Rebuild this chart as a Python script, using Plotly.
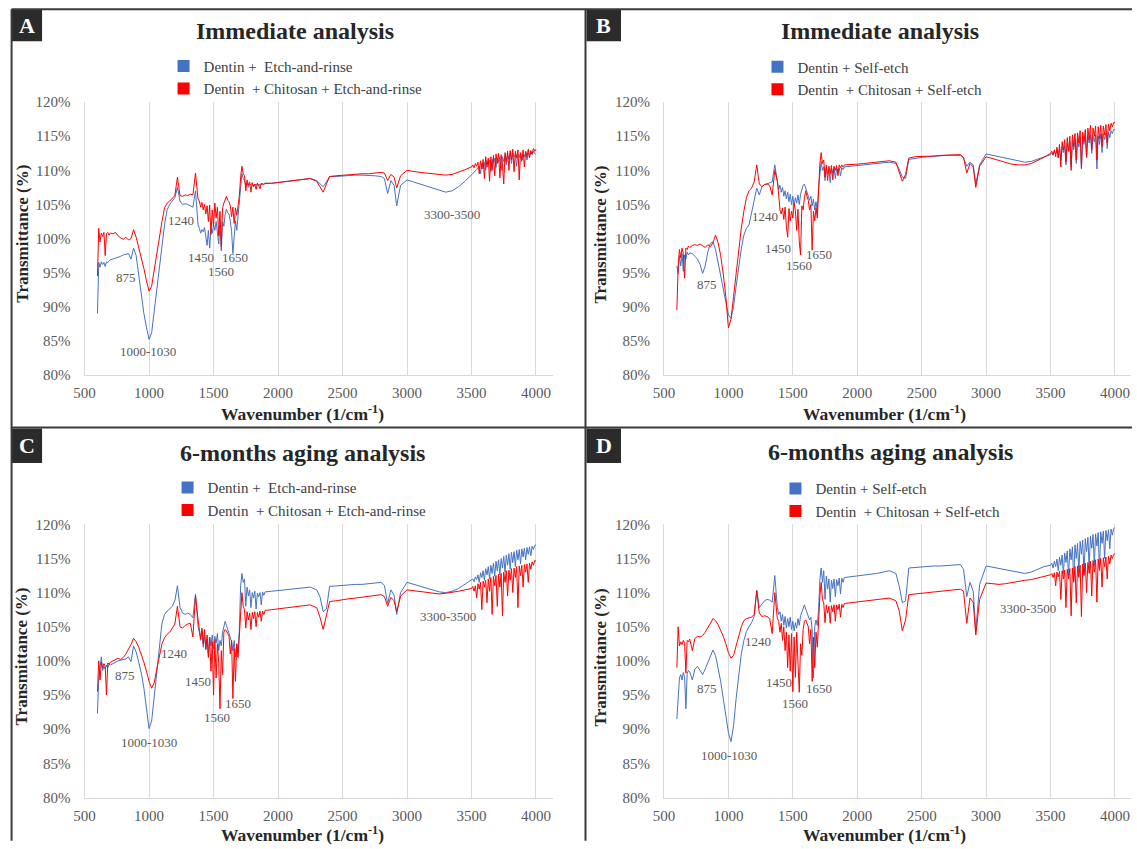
import plotly.graph_objects as go

# The page is captured at about 1148x865 (8px body margin round the figure)
# and then fitted into the 1137x849 picture; layout positions below are given
# in picture pixels and converted here.
BODY = 8
W, H = 1132, 849
X_STRETCH = 1148 / 1137
Y_STRETCH = 865 / 849
X_SHIFT = 3.5


def px(x):
    return ((x - X_SHIFT) * X_STRETCH - BODY) / W


def py(y):
    return 1 - (y * Y_STRETCH - BODY) / H


SERIF = "Liberation Serif"
BLUE = "#4472C4"
RED = "#FF0000"
TICK_GREY = "#595959"
GRID_GREY = "#D9D9D9"
DARK = "#262626"

# ---------------- data ----------------
WN_MID = [1950, 2000, 2050, 2100, 2150, 2200, 2250, 2300,
          2325, 2350, 2375,
          2400, 2450, 2500, 2550, 2600, 2650, 2700, 2750, 2800,
          2825, 2850, 2875, 2900, 2920, 2950,
          3000, 3050, 3100, 3150, 3200, 3250, 3300, 3350, 3400, 3450]

WAVENUMBER = (list(range(600, 701, 10)) + list(range(720, 1381, 20))
              + list(range(1390, 1701, 10)) + list(range(1710, 1901, 10))
              + WN_MID + list(range(3500, 4001, 10)))

X_TICKS = [500, 1000, 1500, 2000, 2500, 3000, 3500, 4000]
Y_TICKS = [80, 85, 90, 95, 100, 105, 110, 115, 120]
Y_TICK_TEXT = ["80%", "85%", "90%", "95%", "100%", "105%", "110%", "115%", "120%"]

NAME_ER = "Dentin +  Etch-and-rinse"
NAME_CH_ER = "Dentin  + Chitosan + Etch-and-rinse"
NAME_SE = "Dentin + Self-etch"
NAME_CH_SE = "Dentin  + Chitosan + Self-etch"

# Panel A - immediate, etch-and-rinse
A_BLUE = [
    89.0, 96.5, 95.8, 96.6, 96.2, 96.5, 95.9, 96.6, 96.5, 96.8, 96.9,
    97.0, 97.1, 97.3, 97.4, 97.6, 97.7, 97.8, 97.0, 98.6, 97.5,
    94.5, 91.5, 89.0, 87.0, 85.2, 86.2, 89.5, 93.0, 96.0, 99.0,
    102.0, 104.2, 105.0, 105.5, 106.0, 107.5, 105.5, 105.0, 105.1, 105.0,
    104.8, 104.6, 107.0, 102.0,
    101.5, 100.8, 101.3, 101.0, 101.6, 100.5, 99.0, 101.2, 98.6, 101.5,
    100.8, 102.0, 101.2, 102.5, 100.6, 99.2, 102.0, 98.2, 102.5, 101.8,
    103.5, 104.3, 103.8, 103.6, 102.5, 101.0, 97.8, 100.2, 102.6, 101.2,
    103.5, 105.5,
    107.5, 109.5, 108.8, 108.5, 107.8, 108.2, 107.5, 108.0, 107.9, 108.1,
    107.6, 108.0, 107.8, 108.1, 107.7, 108.0, 107.9, 108.1, 107.9, 108.1,
    108.1, 108.2, 108.3, 108.4, 108.5, 108.6, 108.8, 108.5,
    108.0, 107.6, 108.3,
    109.1, 109.1, 109.2, 109.2, 109.3, 109.3, 109.3, 109.2, 109.1,
    108.8, 106.6, 108.5, 107.8, 104.8, 107.8,
    108.6, 108.3, 108.0, 107.7, 107.3, 107.0, 106.8, 107.0, 107.6, 108.4,
    109.3, 109.5, 109.7, 109.9, 110.1, 110.4, 110.6, 109.5, 111.0, 110.2,
    111.2, 110.0, 111.4, 110.8, 111.5, 109.8, 111.6, 111.0, 111.8, 110.4,
    111.8, 111.2, 112.0, 110.0, 112.0, 111.3, 112.2, 110.8, 112.3, 111.6,
    112.6, 111.0, 112.5, 112.0, 112.3, 110.6, 112.4, 111.9, 112.5, 111.3,
    112.4, 112.0, 112.6, 111.5, 112.5, 112.2, 112.7, 112.3, 112.8, 112.5,
    112.3,
]
A_RED = [
    94.5, 101.5, 99.5, 100.8, 100.3, 100.9, 97.5, 100.7, 100.9, 100.5, 100.8,
    100.7, 100.9, 100.4, 100.1, 99.9, 100.2, 99.8, 100.0, 101.3, 100.2,
    98.8, 97.2, 95.6, 93.8, 92.3, 93.0, 95.5, 98.0, 100.3, 102.5,
    104.5, 105.2, 105.5, 105.9, 106.3, 109.0, 106.3, 106.2, 106.4, 106.3,
    106.5, 106.4, 109.6, 105.8,
    105.5, 104.6, 105.3, 104.2, 105.0, 103.6, 104.8, 102.5, 104.9, 100.6,
    104.2, 101.8, 105.2, 103.0, 104.6, 100.4, 104.0, 98.8, 104.5, 105.2,
    105.8, 106.2, 105.6, 105.4, 104.8, 103.2, 104.6, 102.2, 104.5, 103.4,
    104.8, 106.2,
    109.0, 110.6, 109.5, 109.2, 107.0, 108.6, 107.8, 108.3, 106.8, 108.2,
    107.6, 108.0, 107.2, 108.1, 107.8, 107.3, 108.1, 107.9, 108.0, 108.1,
    108.1, 108.2, 108.3, 108.4, 108.5, 108.6, 108.8, 108.4,
    107.6, 106.8, 108.0,
    109.1, 109.2, 109.3, 109.4, 109.4, 109.5, 109.5, 109.6, 109.7,
    109.6, 108.5, 109.4, 109.0, 107.4, 109.2,
    110.0, 109.8, 109.7, 109.6, 109.5, 109.4, 109.3, 109.4, 109.7, 110.1,
    110.5, 110.8, 110.4, 111.0, 110.6, 111.2, 109.5, 111.4, 110.2, 111.6,
    108.8, 112.0, 110.5, 111.8, 108.4, 112.0, 110.0, 112.2, 109.2, 112.4,
    111.0, 112.5, 108.9, 112.3, 110.8, 108.0, 112.6, 111.2, 112.8, 110.0,
    112.9, 111.5, 113.1, 109.8, 112.8, 111.8, 113.0, 108.6, 112.6, 111.5,
    113.0, 110.5, 112.8, 112.0, 113.1, 111.8, 112.9, 112.4, 113.2, 112.8,
    113.1,
]

# Panel B - immediate, self-etch
B_BLUE = [
    96.0, 94.8, 97.5, 96.0, 97.8, 95.2, 97.6, 97.0, 98.0, 97.6, 97.9,
    97.8, 97.4, 97.0, 96.2, 94.9, 96.0, 98.0, 99.3, 99.5, 98.4,
    96.5, 94.5, 92.5, 90.5, 88.8, 88.3, 90.0, 93.0, 96.0, 98.5,
    100.5, 101.5, 102.0, 103.8, 106.0, 107.4, 106.4, 107.6, 107.9, 108.0,
    108.1, 108.3, 110.8, 108.0,
    107.2, 107.8, 106.8, 107.5, 106.2, 107.0, 105.8, 106.8, 105.4, 106.5,
    105.0, 106.2, 104.8, 106.0, 105.2, 106.4, 105.0, 106.5, 107.2, 107.8,
    108.0, 107.4, 106.8, 106.5, 105.6, 106.2, 104.8, 105.8, 104.2, 105.4,
    104.0, 107.5,
    110.0, 111.3, 110.0, 110.5, 108.5, 110.3, 109.5, 110.2, 108.2, 110.3,
    109.6, 110.4, 108.8, 110.3, 109.8, 110.4, 109.2, 110.4, 110.1, 110.5,
    110.6, 110.7, 110.8, 110.9, 111.0, 111.1, 111.2, 111.0,
    110.2, 109.0, 108.8,
    111.6, 111.8, 111.9, 112.0, 112.1, 112.1, 112.2, 112.2, 112.2,
    111.8, 110.6, 111.2, 110.8, 108.0, 110.8,
    112.4, 112.2, 112.0, 111.8, 111.6, 111.4, 111.2, 111.3, 111.6, 112.0,
    112.3, 112.5, 112.2, 112.8, 112.4, 113.0, 112.0, 113.2, 111.5, 113.5,
    112.6, 113.6, 110.8, 114.0, 112.8, 114.2, 110.5, 114.4, 113.0, 114.5,
    111.0, 114.6, 113.4, 114.8, 110.2, 114.6, 113.8, 115.0, 111.8, 115.0,
    114.0, 115.2, 112.5, 115.0, 114.2, 115.2, 110.2, 115.0, 113.8, 115.3,
    112.6, 115.4, 114.5, 115.5, 113.2, 115.6, 114.8, 115.8, 115.4, 116.0,
    116.0,
]
B_RED = [
    89.5, 96.0, 98.4, 97.2, 98.6, 97.8, 94.2, 98.6, 98.4, 98.9, 98.7,
    99.0, 99.1, 99.0, 99.2, 98.9, 98.7, 99.1, 98.8, 99.4, 100.5,
    99.4, 97.5, 94.8, 91.5, 86.9, 88.2, 91.5, 95.0, 98.5, 101.5,
    104.0, 106.0, 107.0, 107.4, 108.3, 110.8, 108.0, 107.6, 107.9, 108.0,
    107.8, 106.4, 110.0, 108.4,
    106.5, 104.2, 103.6, 104.5, 102.8, 104.6, 101.8, 100.2, 104.4, 102.6,
    104.0, 103.0, 105.2, 104.0, 101.2, 104.3, 99.5, 97.6, 104.8, 104.2,
    106.0, 107.0, 106.2, 105.6, 104.2, 105.0, 98.3, 104.0, 102.6, 104.5,
    103.0, 107.5,
    111.0, 112.6, 111.0, 111.5, 109.0, 110.8, 108.5, 110.6, 109.5, 110.7,
    108.6, 110.6, 110.0, 110.7, 109.2, 110.8, 110.4, 110.8, 110.5, 110.8,
    110.8, 110.9, 111.0, 111.1, 111.2, 111.3, 111.4, 111.2,
    109.8, 108.4, 109.4,
    111.8, 112.0, 112.0, 112.1, 112.1, 112.2, 112.2, 112.3, 112.3,
    111.9, 109.6, 111.0, 110.5, 107.5, 110.6,
    112.0, 111.7, 111.4, 111.2, 110.9, 110.8, 110.8, 111.0, 111.4, 111.9,
    112.5, 112.8, 112.3, 113.0, 112.0, 113.4, 111.8, 113.8, 110.5, 114.2,
    113.0, 114.5, 111.2, 114.8, 112.8, 115.0, 110.0, 115.2, 113.5, 115.4,
    111.5, 115.5, 114.0, 115.8, 110.4, 115.6, 114.2, 116.0, 112.0, 116.2,
    114.5, 116.6, 113.0, 116.2, 115.0, 116.5, 111.5, 116.4, 114.6, 116.6,
    113.5, 116.5, 115.2, 116.7, 114.0, 116.8, 115.8, 116.9, 116.4, 117.0,
    117.0,
]

# Panel C - 6-months aging, etch-and-rinse
C_BLUE = [
    92.3, 97.5, 99.0, 100.6, 98.6, 99.2, 98.8, 99.4, 99.0, 99.5, 99.4,
    99.6, 99.9, 100.0, 100.1, 100.2, 100.3, 100.6, 99.9, 102.2, 101.3,
    99.8, 98.2, 96.0, 93.0, 90.1, 91.2, 95.0, 99.0, 102.5, 105.5,
    106.8, 107.3, 107.6, 108.0, 108.8, 111.0, 107.8, 107.0, 106.8, 107.0,
    106.8, 106.3, 109.8, 105.0,
    104.2, 103.0, 104.5, 102.0, 103.8, 101.6, 103.2, 100.8, 103.5, 102.2,
    103.8, 101.8, 103.6, 102.6, 104.0, 101.5, 103.0, 102.2, 104.2, 105.2,
    105.8, 105.2, 104.6, 104.3, 103.5, 102.8, 101.5, 103.0, 100.6, 102.5,
    101.2, 104.5,
    111.0, 112.8, 111.5, 112.0, 108.0, 110.8, 109.5, 110.4, 107.8, 110.0,
    109.2, 110.2, 107.6, 109.9, 109.4, 110.0, 108.2, 110.1, 109.6, 110.1,
    110.2, 110.3, 110.4, 110.5, 110.6, 110.7, 110.8, 110.4,
    109.4, 107.2, 107.6,
    110.9, 111.0, 111.1, 111.1, 111.2, 111.2, 111.3, 111.4, 111.5,
    111.0, 108.4, 110.4, 109.6, 106.8, 110.0,
    111.5, 111.2, 110.9, 110.6, 110.3, 110.1, 110.0, 110.2, 110.6, 111.2,
    111.8, 112.0, 111.6, 112.3, 111.9, 112.6, 111.5, 112.9, 112.2, 113.2,
    111.8, 113.5, 112.6, 113.8, 112.0, 114.0, 112.8, 114.3, 112.4, 114.6,
    113.2, 114.8, 112.6, 115.0, 113.6, 115.3, 113.0, 115.5, 114.0, 115.7,
    113.4, 115.9, 114.4, 116.0, 113.8, 116.2, 114.8, 116.3, 114.2, 116.4,
    115.2, 116.5, 114.8, 116.6, 115.6, 116.7, 115.4, 116.8, 116.3, 116.9,
    117.0,
]
C_RED = [
    95.5, 100.0, 97.2, 99.8, 99.0, 99.6, 99.2, 95.0, 99.7, 99.5, 99.8,
    100.0, 100.3, 100.4, 100.2, 100.5, 101.0, 101.6, 102.4, 103.3, 102.8,
    102.0, 101.0, 99.8, 98.5, 97.0, 96.0, 96.8, 98.8, 100.8, 102.5,
    103.4, 103.9, 104.2, 104.8, 105.4, 108.0, 105.0, 104.8, 105.2, 105.4,
    105.5, 103.5, 109.5, 106.0,
    104.5, 103.2, 104.8, 102.5, 104.6, 101.8, 103.8, 100.5, 103.5, 98.5,
    102.8, 95.0, 103.0, 97.5, 102.5, 99.8, 93.0, 101.5, 98.0, 104.2,
    104.6, 104.4, 104.0, 103.6, 101.0, 103.0, 94.5, 101.8, 97.0, 102.5,
    100.5, 104.0,
    108.5, 110.0, 108.0, 107.5, 104.8, 107.2, 106.0, 107.0, 104.6, 107.1,
    106.2, 107.2, 105.0, 107.1, 106.4, 107.3, 105.8, 107.3, 106.8, 107.4,
    107.5, 107.6, 107.7, 107.8, 107.9, 108.0, 108.2, 107.8,
    106.4, 104.6, 106.5,
    108.7, 108.8, 109.0, 109.1, 109.2, 109.3, 109.4, 109.5, 109.7,
    109.4, 108.0, 109.3, 108.8, 107.2, 109.5,
    110.4, 110.3, 110.2, 110.1, 109.9, 109.8, 109.9, 110.0, 110.2, 110.4,
    110.6, 110.9, 110.2, 111.0, 109.2, 111.3, 110.5, 111.5, 107.5, 111.7,
    110.8, 111.8, 108.5, 112.0, 110.2, 112.2, 106.8, 112.4, 111.0, 112.5,
    108.0, 112.7, 110.8, 112.8, 106.6, 113.0, 111.5, 113.2, 109.5, 113.3,
    111.8, 113.5, 110.0, 113.6, 112.2, 113.8, 107.8, 113.9, 112.5, 114.0,
    110.8, 114.1, 113.0, 114.2, 111.5, 114.3, 113.4, 114.5, 114.0, 114.7,
    114.6,
]

# Panel D - 6-months aging, self-etch
D_BLUE = [
    91.5, 95.5, 97.5, 98.0, 97.2, 98.3, 97.6, 93.0, 98.2, 98.6, 98.4,
    97.2, 98.8, 99.2, 98.5, 98.0, 98.8, 99.8, 100.8, 101.6, 100.8,
    99.0, 97.0, 94.5, 91.8, 89.5, 88.2, 90.5, 94.5, 98.0, 101.0,
    103.0, 104.3, 105.0, 105.6, 106.5, 110.3, 107.8, 108.4, 108.8, 109.0,
    108.9, 108.6, 112.5, 107.8,
    106.8, 107.2, 105.8, 106.8, 105.2, 106.5, 104.8, 106.2, 105.0, 106.4,
    104.6, 105.8, 104.4, 105.6, 104.8, 106.2, 105.2, 106.6, 107.2, 107.8,
    108.2, 107.6, 107.0, 106.6, 106.0, 106.4, 104.5, 97.5, 105.0, 106.0,
    105.2, 107.5,
    112.0, 113.6, 111.5, 113.2, 109.0, 112.4, 110.5, 112.0, 108.6, 111.8,
    110.6, 112.0, 109.4, 111.9, 111.0, 112.1, 109.8, 112.1, 111.5, 112.2,
    112.3, 112.4, 112.5, 112.7, 112.8, 113.0, 113.2, 112.8,
    111.0, 108.5, 108.8,
    113.6, 113.7, 113.8, 113.8, 113.9, 113.9, 114.0, 114.1, 114.1,
    113.4, 109.4, 111.5, 110.2, 104.4, 111.2,
    113.9, 113.7, 113.5, 113.3, 113.1, 112.9, 112.8, 113.0, 113.4, 113.8,
    114.0, 114.3, 113.6, 114.6, 113.8, 114.9, 113.2, 115.2, 114.0, 115.5,
    112.8, 115.8, 114.4, 116.1, 112.5, 116.4, 114.8, 116.7, 111.8, 117.0,
    115.0, 117.2, 113.0, 117.5, 115.6, 117.7, 112.4, 117.9, 116.0, 118.1,
    113.6, 118.3, 116.5, 118.5, 114.0, 118.6, 116.8, 118.8, 113.2, 118.9,
    117.2, 119.0, 115.0, 119.1, 117.6, 119.2, 116.4, 119.3, 118.4, 119.4,
    119.5,
]
D_RED = [
    99.0, 105.0, 102.2, 102.8, 102.4, 103.0, 102.6, 98.2, 103.0, 102.8, 103.2,
    101.5, 103.3, 103.6, 103.5, 103.7, 104.2, 104.8, 105.5, 106.2, 105.9,
    105.3, 104.5, 103.6, 102.5, 101.2, 100.4, 100.8, 102.2, 103.8, 105.0,
    105.9, 106.2, 106.3, 106.4, 106.8, 110.3, 107.0, 106.5, 106.6, 106.5,
    106.2, 104.0, 110.0, 106.2,
    105.8, 104.2, 105.5, 103.0, 105.0, 101.5, 104.2, 99.0, 103.8, 98.5,
    104.0, 95.5, 103.5, 97.6, 104.2, 100.5, 95.4, 102.5, 100.8, 104.6,
    105.8, 106.0, 105.4, 105.0, 102.5, 104.6, 97.0, 103.5, 99.0, 104.2,
    102.0, 106.0,
    109.5, 111.5, 109.0, 108.5, 105.6, 108.2, 107.0, 108.0, 105.5, 108.1,
    107.2, 108.2, 105.8, 108.2, 107.5, 108.3, 106.4, 108.3, 107.8, 108.4,
    108.5, 108.6, 108.7, 108.8, 108.9, 109.0, 109.2, 108.8,
    107.4, 104.4, 106.0,
    109.7, 109.8, 109.9, 110.0, 110.1, 110.2, 110.3, 110.4, 110.5,
    110.2, 105.5, 109.2, 108.6, 103.8, 109.0,
    111.4, 111.3, 111.2, 111.3, 111.5, 111.7, 111.8, 111.9, 112.1, 112.4,
    112.6, 112.8, 112.2, 112.9, 111.0, 113.0, 112.3, 113.1, 109.0, 113.2,
    112.0, 113.3, 107.8, 113.4, 112.0, 113.5, 106.6, 113.6, 111.5, 113.8,
    108.5, 113.9, 112.2, 114.0, 106.5, 114.2, 112.6, 114.3, 110.0, 114.4,
    112.8, 114.6, 109.5, 114.7, 113.0, 114.8, 108.6, 114.9, 113.4, 115.0,
    110.8, 115.1, 113.8, 115.2, 112.0, 115.3, 114.2, 115.5, 115.0, 115.6,
    115.7,
]

# peak labels: (text, wavenumber, transmittance)
PEAKS_A = [("875", 822, 94.3), ("1000-1030", 991, 83.4), ("1240", 1244, 102.7),
           ("1450", 1405, 97.2), ("1560", 1560, 95.2), ("1650", 1670, 97.2),
           ("3300-3500", 3350, 103.6)]
PEAKS_B = [("875", 833, 93.2), ("1240", 1285, 103.2), ("1450", 1386, 98.6),
           ("1560", 1546, 96.0), ("1650", 1701, 97.6)]
PEAKS_C = [("875", 814, 97.9), ("1000-1030", 996, 88.0), ("1240", 1194, 101.1),
           ("1450", 1377, 97.0), ("1560", 1527, 91.7), ("1650", 1688, 93.7),
           ("3300-3500", 3314, 106.5)]
PEAKS_D = [("875", 833, 96.0), ("1000-1030", 1006, 86.2), ("1240", 1226, 102.9),
           ("1450", 1392, 96.8), ("1560", 1519, 93.8), ("1650", 1701, 96.0),
           ("3300-3500", 3326, 107.7)]

for _name, _vals in [("A_BLUE", A_BLUE), ("A_RED", A_RED), ("B_BLUE", B_BLUE),
                     ("B_RED", B_RED), ("C_BLUE", C_BLUE), ("C_RED", C_RED),
                     ("D_BLUE", D_BLUE), ("D_RED", D_RED)]:
    if len(_vals) != len(WAVENUMBER):
        raise ValueError(f"{_name}: {len(_vals)} values vs {len(WAVENUMBER)} wavenumbers")

# ---------------- layout specs (picture pixels) ----------------
PANELS = [
    dict(letter="A", n="", legend="legend", title="Immediate analysis",
         blue=A_BLUE, red=A_RED, names=(NAME_ER, NAME_CH_ER), peaks=PEAKS_A,
         xdom=(85, 553), xmax=4128, ydom=(102, 375), title_xy=(295, 31),
         leg_xy=(164, 49.6), ytitle_xy=(22, 234), xtitle_xy=(303, 413),
         box=(12, 9, 42.5, 41)),
    dict(letter="B", n="2", legend="legend2", title="Immediate analysis",
         blue=B_BLUE, red=B_RED, names=(NAME_SE, NAME_CH_SE), peaks=PEAKS_B,
         xdom=(664.5, 1132), xmax=4128, ydom=(102, 375), title_xy=(881, 31),
         leg_xy=(758, 50.3), ytitle_xy=(601, 234), xtitle_xy=(885, 413),
         box=(587, 9, 621.5, 41)),
    dict(letter="C", n="3", legend="legend3", title="6-months aging analysis",
         blue=C_BLUE, red=C_RED, names=(NAME_ER, NAME_CH_ER), peaks=PEAKS_C,
         xdom=(85, 553), xmax=4128, ydom=(524.3, 797.7), title_xy=(303, 453),
         leg_xy=(168, 471.3), ytitle_xy=(22, 657), xtitle_xy=(303, 834),
         box=(12, 428.5, 42.5, 463)),
    dict(letter="D", n="4", legend="legend4", title="6-months aging analysis",
         blue=D_BLUE, red=D_RED, names=(NAME_SE, NAME_CH_SE), peaks=PEAKS_D,
         xdom=(664.5, 1132), xmax=4128, ydom=(524.3, 797.7), title_xy=(891, 452),
         leg_xy=(776, 472.3), ytitle_xy=(601, 657), xtitle_xy=(885, 834),
         box=(587, 428.5, 621.5, 463)),
]

fig = go.Figure()
layout = dict(
    width=W, height=H, autosize=False,
    margin=dict(l=0, r=0, t=0, b=0),
    paper_bgcolor="white", plot_bgcolor="white",
    font=dict(family=SERIF, color=DARK),
)
annotations = []
shapes = []

for p in PANELS:
    n = p["n"]
    xa, ya = "x" + n, "y" + n
    fig.add_trace(go.Scatter(x=WAVENUMBER, y=p["blue"], mode="lines",
                             line=dict(color=BLUE, width=1), xaxis=xa, yaxis=ya,
                             name=p["names"][0], showlegend=False, hoverinfo="skip"))
    fig.add_trace(go.Scatter(x=WAVENUMBER, y=p["red"], mode="lines",
                             line=dict(color=RED, width=1), xaxis=xa, yaxis=ya,
                             name=p["names"][1], showlegend=False, hoverinfo="skip"))
    for color, name in [(BLUE, p["names"][0]), (RED, p["names"][1])]:
        fig.add_trace(go.Scatter(x=[None], y=[None], mode="markers",
                                 marker=dict(symbol="square", size=12, color=color),
                                 xaxis=xa, yaxis=ya, name=name, legend=p["legend"],
                                 showlegend=True))

    layout["xaxis" + n] = dict(
        domain=[px(p["xdom"][0]), px(p["xdom"][1])], range=[500, p["xmax"]],
        anchor=ya, tickmode="array", tickvals=X_TICKS, ticks="",
        showgrid=True, gridcolor=GRID_GREY, gridwidth=1,
        showline=True, linecolor=GRID_GREY, linewidth=1, zeroline=False,
        tickfont=dict(family=SERIF, size=15, color=TICK_GREY), ticklabelstandoff=4,
        fixedrange=True)
    layout["yaxis" + n] = dict(
        domain=[py(p["ydom"][1]), py(p["ydom"][0])], range=[80, 120],
        anchor=xa, tickmode="array", tickvals=Y_TICKS, ticktext=Y_TICK_TEXT, ticks="",
        showgrid=False, showline=True, linecolor=GRID_GREY, linewidth=1, zeroline=False,
        tickfont=dict(family=SERIF, size=15, color=TICK_GREY), ticklabelstandoff=10,
        fixedrange=True)
    layout[p["legend"]] = dict(
        x=px(p["leg_xy"][0]), y=py(p["leg_xy"][1]), xanchor="left", yanchor="top",
        bgcolor="rgba(0,0,0,0)", borderwidth=0, tracegroupgap=0, itemwidth=30,
        font=dict(family=SERIF, size=15, color="#404040"))

    # panel title
    annotations.append(dict(text="<b>%s</b>" % p["title"], x=px(p["title_xy"][0]),
                            y=py(p["title_xy"][1]), xref="paper", yref="paper",
                            showarrow=False, xanchor="center", yanchor="middle",
                            font=dict(family=SERIF, size=24, color=DARK)))
    # axis titles
    annotations.append(dict(text="<b>Wavenumber (1/cm<sup>-1</sup>)</b>",
                            x=px(p["xtitle_xy"][0]), y=py(p["xtitle_xy"][1]),
                            xref="paper", yref="paper", showarrow=False,
                            xanchor="center", yanchor="middle",
                            font=dict(family=SERIF, size=17.5, color=DARK)))
    annotations.append(dict(text="<b>Transmittance (%)</b>", textangle=-90,
                            x=px(p["ytitle_xy"][0]), y=py(p["ytitle_xy"][1]),
                            xref="paper", yref="paper", showarrow=False,
                            xanchor="center", yanchor="middle",
                            font=dict(family=SERIF, size=17, color=DARK)))
    # peak labels
    for txt, wx, wy in p["peaks"]:
        annotations.append(dict(text=txt, x=wx, y=wy, xref=xa, yref=ya, showarrow=False,
                                xanchor="center", yanchor="middle",
                                font=dict(family=SERIF, size=13, color=TICK_GREY)))
    # letter box
    x0, y0, x1, y1 = p["box"]
    shapes.append(dict(type="rect", xref="paper", yref="paper",
                       x0=px(x0), x1=px(x1), y0=py(y1), y1=py(y0),
                       fillcolor="#2B2B2B", line=dict(width=0), layer="above"))
    annotations.append(dict(text="<b>%s</b>" % p["letter"], x=px((x0 + x1) / 2),
                            y=py((y0 + y1) / 2), xref="paper", yref="paper",
                            showarrow=False, xanchor="center", yanchor="middle",
                            font=dict(family=SERIF, size=22, color="white")))

# panel frame lines
FRAME = "#3A3A3A"
for (x0, y0, x1, y1) in [(12, 9, 1133, 9), (12, 9, 12, 841), (586, 9, 586, 841),
                         (12, 427.5, 1133, 427.5)]:
    shapes.append(dict(type="line", xref="paper", yref="paper",
                       x0=px(x0), x1=px(x1), y0=py(y0), y1=py(y1),
                       line=dict(color=FRAME, width=2)))

layout["annotations"] = annotations
layout["shapes"] = shapes
fig.update_layout(**layout)

fig.write_html("out.html")
